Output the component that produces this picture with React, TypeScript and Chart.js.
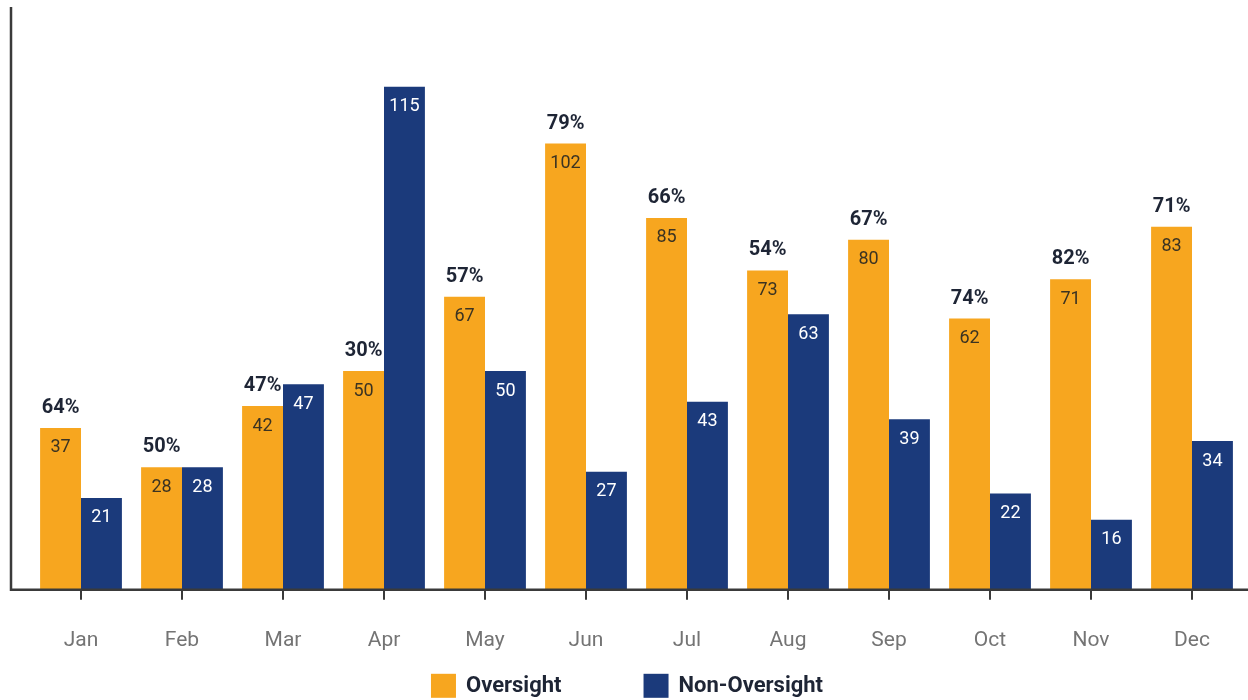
import React, { useEffect, useRef } from "react";
import { Chart, registerables } from "chart.js";

Chart.register(...registerables);

const months = ["Jan", "Feb", "Mar", "Apr", "May", "Jun", "Jul", "Aug", "Sep", "Oct", "Nov", "Dec"];
const oversight = [37, 28, 42, 50, 67, 102, 85, 73, 80, 62, 71, 83];
const nonOversight = [21, 28, 47, 115, 50, 27, 43, 63, 39, 22, 16, 34];
const pctLabels = ["64%", "50%", "47%", "30%", "57%", "79%", "66%", "54%", "67%", "74%", "82%", "71%"];
const seriesNames = ["Oversight", "Non-Oversight"];

const ORANGE = "#F7A61F";
const NAVY = "#1B3A7B";
const FONT = "Roboto, 'Noto Sans', sans-serif";

const labelsPlugin = {
  id: "barLabels",
  afterDatasetsDraw(chart: any) {
    const ctx = chart.ctx;
    ctx.save();
    ctx.textAlign = "center";
    ctx.textBaseline = "middle";
    chart.data.datasets.forEach((ds: any, di: number) => {
      const meta = chart.getDatasetMeta(di);
      meta.data.forEach((el: any, i: number) => {
        ctx.font = `400 18px ${FONT}`;
        ctx.fillStyle = di === 0 ? "#3b3322" : "#ffffff";
        ctx.fillText(String(ds.data[i]), el.x, el.y + 20);
        if (di === 0) {
          ctx.font = `700 20px ${FONT}`;
          ctx.fillStyle = "#1e2535";
          ctx.fillText(pctLabels[i], el.x, el.y - 20);
        }
      });
    });
    ctx.restore();
  },
};

const axesPlugin = {
  id: "customAxes",
  afterDraw(chart: any) {
    const { ctx, chartArea, width } = chart;
    const axisX = chartArea.left - 19.5;
    ctx.save();
    ctx.strokeStyle = "#3a3a3a";
    ctx.lineWidth = 2.5;
    ctx.beginPath();
    ctx.moveTo(axisX, chartArea.top - 1);
    ctx.lineTo(axisX, chartArea.bottom);
    ctx.lineTo(width, chartArea.bottom);
    ctx.stroke();

    // legend
    ctx.font = `700 22px ${FONT}`;
    ctx.textBaseline = "middle";
    ctx.textAlign = "left";
    const colors = [ORANGE, NAVY];
    const boxW = 25;
    const boxH = 24;
    const gapText = 10;
    const gapItems = 82;
    const widths = seriesNames.map((n) => boxW + gapText + ctx.measureText(n).width);
    const total = widths[0] + widths[1] + gapItems;
    let x = (width - total) / 2 + 3;
    const top = chartArea.bottom + 84;
    seriesNames.forEach((n, i) => {
      ctx.fillStyle = colors[i];
      ctx.fillRect(x, top, boxW, boxH);
      ctx.fillStyle = "#1e2535";
      ctx.fillText(n, x + boxW + gapText, top + boxH / 2 + 1);
      x += widths[i] + gapItems;
    });
    ctx.restore();
  },
};

export default function App() {
  const ref = useRef<HTMLCanvasElement | null>(null);
  useEffect(() => {
    if (!ref.current) return;
    const chart = new Chart(ref.current, {
      type: "bar",
      data: {
        labels: months,
        datasets: [
          { label: seriesNames[0], data: oversight, backgroundColor: ORANGE },
          { label: seriesNames[1], data: nonOversight, backgroundColor: NAVY },
        ],
      },
      options: {
        animation: false,
        responsive: true,
        maintainAspectRatio: false,
        layout: { padding: { left: 30.5, right: 5.5, top: 8, bottom: 19 } },
        datasets: { bar: { barPercentage: 1, categoryPercentage: 0.81 } },
        plugins: { legend: { display: false }, tooltip: { enabled: false } },
        scales: {
          y: { display: false, min: 0, max: 133 },
          x: {
            grid: {
              display: true,
              drawOnChartArea: false,
              drawTicks: true,
              tickLength: 10,
              offset: false,
              color: "#3a3a3a",
              lineWidth: 2,
            },
            border: { display: false },
            ticks: {
              padding: 28,
              color: "#747474",
              font: { family: FONT, size: 21, weight: "400" },
            },
          },
        },
      },
      plugins: [labelsPlugin, axesPlugin],
    });
    return () => chart.destroy();
  }, []);
  return (
    <div style={{ position: "fixed", left: 0, top: 0, width: 1248, height: 700, background: "#fff" }}>
      <canvas ref={ref} />
    </div>
  );
}
